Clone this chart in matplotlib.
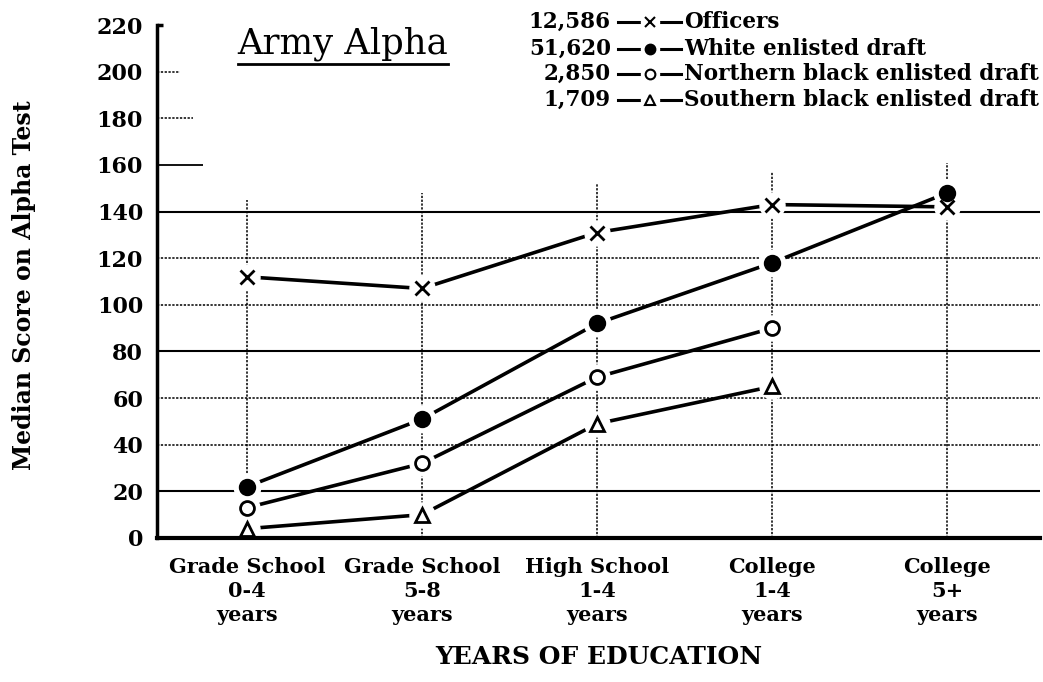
import numpy as np
import matplotlib
matplotlib.use("Agg")
import matplotlib.pyplot as plt
from matplotlib.lines import Line2D

plt.rcParams["font.family"] = "DejaVu Serif"
plt.rcParams["font.weight"] = "bold"

# data
categories = ["Grade School\n0-4\nyears", "Grade School\n5-8\nyears", "High School\n1-4\nyears",
              "College\n1-4\nyears", "College\n5+\nyears"]
officers = [112, 107, 131, 143, 142]
white = [22, 51, 92, 118, 148]
north_black = [13, 32, 69, 90]
south_black = [4, 10, 49, 65]
counts = ["12,586", "51,620", "2,850", "1,709"]
names = ["Officers", "White enlisted draft", "Northern black enlisted draft", "Southern black enlisted draft"]
yticks = list(range(0, 221, 20))
vline_tops = [145, 148, 152, 157, 161]

W, H = 1043, 682
fig = plt.figure(figsize=(W / 100, H / 100), dpi=100)
ax = fig.add_axes([157 / W, 1 - 538 / H, (1040 - 157) / W, (538 - 25) / H])
x0, x1 = -0.514, 4.53
ax.set_xlim(x0, x1)
ax.set_ylim(0, 220)

def px(x, y):
    return x / W, 1 - y / H

# grid
dots = (0, (1.5, 1))
for v in [20, 80, 140]:
    ax.hlines(v, x0, x1, color="black", lw=1.5, zorder=1)
for v in [40, 60, 100, 120]:
    ax.hlines(v, x0, x1, color="black", lw=1.1, linestyles=dots, zorder=1)
ax.hlines(160, x0, -0.25, color="black", lw=1.3, zorder=1)
ax.hlines(180, x0, -0.31, color="black", lw=1.1, linestyles=dots, zorder=1)
ax.hlines(200, x0, -0.38, color="black", lw=1.1, linestyles=dots, zorder=1)
ax.hlines(220, x0, x0 + 0.035, color="black", lw=2.5, clip_on=False, zorder=3)
xs = np.arange(len(categories))
ax.vlines(xs, 0, vline_tops, color="black", lw=1.1, linestyles=dots, zorder=1)

series = [
    (officers, "x", "black", 10, 2.0),
    (white, "o", "black", 11, 1.5),
    (north_black, "o", "white", 10, 2.0),
    (south_black, "^", "white", 10, 2.0),
]
for vals, m, fc, ms, mew in series:
    xx = xs[:len(vals)]
    ax.plot(xx, vals, color="black", lw=2.6, zorder=4, solid_capstyle="butt")
    ax.plot(xx, vals, ls="none", marker="o", ms=ms + 8, mfc="white", mec="white", zorder=5)
    ax.plot(xx, vals, ls="none", marker=m, ms=ms, mfc=fc, mec="black", mew=mew, zorder=6)

for s in ["top", "right"]:
    ax.spines[s].set_visible(False)
ax.spines["left"].set_linewidth(2.5)
ax.spines["bottom"].set_linewidth(3)
ax.spines["bottom"].set_zorder(7)

ax.set_yticks(yticks)
ax.set_yticklabels([str(t) for t in yticks], fontsize=16, fontweight="bold")
ax.tick_params(axis="y", length=0, pad=10)
ax.set_xticks(xs)
ax.set_xticklabels(categories, fontsize=15, fontweight="bold", linespacing=1.25)
ax.tick_params(axis="x", length=0, pad=14)

ax.set_xlabel("YEARS OF EDUCATION", fontsize=18, fontweight="bold", labelpad=14)
fig.text(24 / W, 1 - 285 / H, "Median Score on Alpha Test", rotation=90, fontsize=17,
         fontweight="bold", ha="center", va="center")

# title with underline
fig.text(*px(343, 44), "Army Alpha", fontsize=25.5, fontweight="normal", ha="center", va="center")
fig.add_artist(Line2D([238 / W, 448 / W], [1 - 64 / H, 1 - 64 / H], color="black", lw=2))

# legend, drawn by hand
row_y = [22, 49, 74, 100]
for i, (vals, m, fc, ms, mew) in enumerate(series):
    y = row_y[i]
    fig.text(*px(611, y), counts[i], fontsize=15.5, fontweight="bold", ha="right", va="center")
    fig.add_artist(Line2D([618 / W, 681 / W], [1 - y / H] * 2, color="black", lw=2.2))
    fig.add_artist(Line2D([650 / W], [1 - y / H], ls="none", marker="o", ms=13, mfc="white", mec="white"))
    fig.add_artist(Line2D([650 / W], [1 - y / H], ls="none", marker=m, ms=7, mfc=fc, mec="black", mew=1.5))
    fig.text(*px(684, y), names[i], fontsize=15.5, fontweight="bold", ha="left", va="center")

fig.savefig("out.png", dpi=100)
